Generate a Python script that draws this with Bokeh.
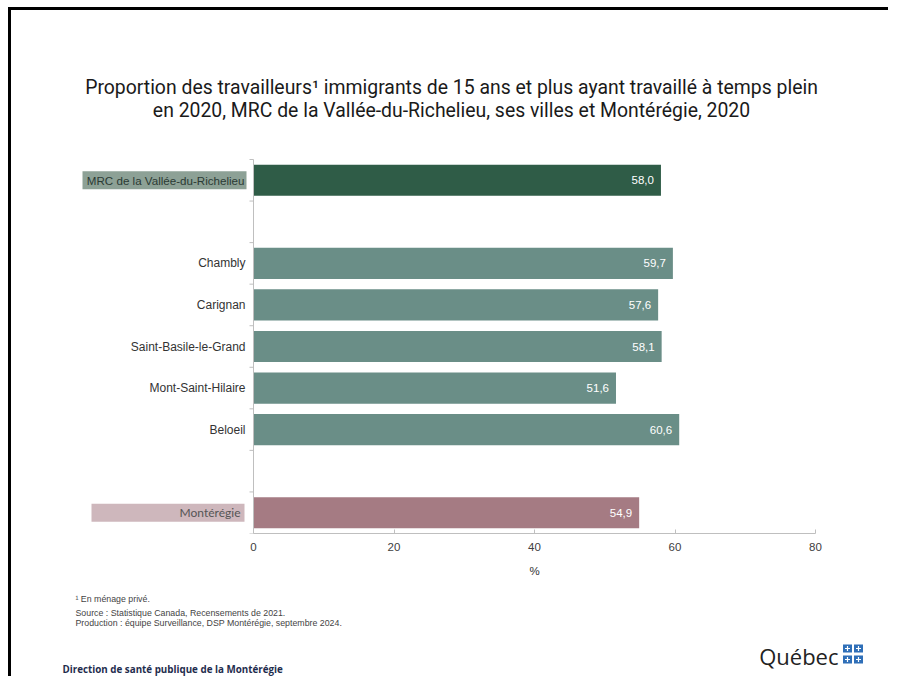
import numpy as np
from bokeh.plotting import figure
from bokeh.layouts import column
from bokeh.models import FixedTicker, Range1d, ColumnDataSource
from bokeh.embed import file_html
from bokeh.resources import INLINE
from bokeh.core.properties import value

# ---------------- data ----------------
categories = ["MRC de la Vallée-du-Richelieu", "Chambly", "Carignan",
              "Saint-Basile-le-Grand", "Mont-Saint-Hilaire", "Beloeil", "Montérégie"]
values = [58.0, 59.7, 57.6, 58.1, 51.6, 60.6, 54.9]
groups = ["mrc", "ville", "ville", "ville", "ville", "ville", "region"]
x_ticks = [0, 20, 40, 60, 80]
x_title = "%"
title_lines = ["Proportion des travailleurs¹ immigrants de 15 ans et plus ayant travaillé à temps plein",
               "en 2020, MRC de la Vallée-du-Richelieu, ses villes et Montérégie, 2020"]
notes = ["¹ En ménage privé.",
         "Source : Statistique Canada, Recensements de 2021.",
         "Production : équipe Surveillance, DSP Montérégie, septembre 2024."]
footer = "Direction de santé publique de la Montérégie"
logo_text = "Québec"

bar_colors = {"mrc": "#2f5c47", "ville": "#6a8e87", "region": "#a57b83"}

# ---------------- layout constants (pixels) ----------------
W = 888
H1 = 558          # main figure height
H2 = 118          # bottom band height
X0_PX, X80_PX = 253, 815     # where 0 and 80 fall
Y_TOP_PX, Y_BOT_PX = 159, 533
FRAME_BOTTOM = 533

# slot positions (top to bottom, one empty slot between groups)
order = []
for i, g in enumerate(groups):
    if i > 0 and g != groups[i - 1]:
        order.append(None)
    order.append(i)
n_slots = len(order)
ypos = [0.0] * len(categories)
for k, idx in enumerate(order):
    if idx is not None:
        ypos[idx] = n_slots - 1 - k

kx = (X80_PX - X0_PX) / (x_ticks[-1] - x_ticks[0])
ky = (Y_BOT_PX - Y_TOP_PX) / n_slots
x_start = x_ticks[0] - X0_PX / kx
x_end = x_ticks[-1] + (W - X80_PX) / kx
y_start = -0.5
y_end = n_slots - 0.5 + Y_TOP_PX / ky

border_css = {
    "background-color": "white",
    "background-image": "linear-gradient(#000, #000), linear-gradient(#000, #000)",
    "background-size": "3px 100%, 100% 3px",
    "background-repeat": "no-repeat",
}

p = figure(width=W, height=H1, output_backend="svg", toolbar_location=None,
           x_range=Range1d(x_start, x_end), y_range=Range1d(y_start, y_end),
           y_axis_location=None,
           min_border_left=0, min_border_right=0, min_border_top=0,
           min_border_bottom=H1 - FRAME_BOTTOM)
p.extra_x_ranges = {"px": Range1d(0, W)}
p.extra_y_ranges = {"px": Range1d(FRAME_BOTTOM, 0)}
p.styles = dict(border_css, **{"background-position": "8px 7px, 8px 7px"})
p.outline_line_color = None
p.background_fill_color = None
p.border_fill_color = None
p.xgrid.visible = False
p.ygrid.visible = False

src = ColumnDataSource(dict(
    y=ypos, v=values,
    c=[bar_colors[g] for g in groups],
    lab=[f"{v:.1f}".replace(".", ",") for v in values],
    cat=categories,
))

# bars and value labels
p.hbar(y="y", right="v", left=0, height=0.75, fill_color="c", line_color=None, source=src)
p.text(x="v", y="y", text="lab", source=src, x_offset=-7, text_align="right",
       text_baseline="middle", text_color="white", text_font_size="11.5px",
       text_font=value("Liberation Sans"))

# y axis line and ticks between categories
bounds = [k - 0.5 for k in range(n_slots + 1)]
p.segment(x0=[0], y0=[bounds[0]], x1=[0], y1=[bounds[-1]], line_color="#bfbfbf", line_width=1)
p.ray(x=[0] * len(bounds), y=bounds, length=4, length_units="screen", angle=np.pi,
      line_color="#bfbfbf", line_width=1)

# category labels
mrc_y = [y for y, g in zip(ypos, groups) if g == "mrc"]
reg_y = [y for y, g in zip(ypos, groups) if g == "region"]
box_h = 18 / ky
p.hbar(y=mrc_y, left=82, right=246, height=box_h, x_range_name="px",
       fill_color="#8da196", line_color=None)
p.hbar(y=reg_y, left=91, right=244, height=box_h, x_range_name="px",
       fill_color="#ceb7bc", line_color=None)

vil = [i for i, g in enumerate(groups) if g == "ville"]
p.text(x=[0] * len(vil), y=[ypos[i] for i in vil], text=[categories[i] for i in vil],
       x_offset=-8, text_align="right", text_baseline="middle",
       text_font=value("Liberation Sans"), text_font_size="12px", text_color="#333333")
p.text(x=[0] * len(mrc_y), y=mrc_y, text=[c for c, g in zip(categories, groups) if g == "mrc"],
       x_offset=-9, text_align="right", text_baseline="middle",
       text_font=value("Liberation Sans"), text_font_size="11.6px", text_color="#2b3a34")
p.text(x=[0] * len(reg_y), y=reg_y, text=[c for c, g in zip(categories, groups) if g == "region"],
       x_offset=-13, text_align="right", text_baseline="middle",
       text_font=value("Lato"), text_font_size="12px", text_color="#555555")

# title
p.text(x=[451, 451], y=[87, 110], text=title_lines, x_range_name="px", y_range_name="px",
       text_align="center", text_baseline="middle", text_font=value("Roboto"),
       text_font_size="19.4px", text_color="#1a1a1a")

# x axis
xa = p.xaxis[0]
xa.ticker = FixedTicker(ticks=x_ticks)
xa.bounds = (x_ticks[0], x_ticks[-1])
xa.axis_line_color = "#bfbfbf"
xa.major_tick_line_color = "#bfbfbf"
xa.major_tick_in = 4
xa.major_tick_out = 0
xa.minor_tick_line_color = None
xa.major_label_text_font = "Liberation Sans"
xa.major_label_text_font_size = "11.5px"
xa.major_label_text_color = "#404040"
xa.major_label_standoff = 9

# ---------------- bottom band ----------------
q = figure(width=W, height=H2, output_backend="svg", toolbar_location=None,
           x_range=Range1d(0, W), y_range=Range1d(H1 + H2, H1),
           x_axis_location=None, y_axis_location=None,
           min_border_left=0, min_border_right=0, min_border_top=0, min_border_bottom=0)
q.styles = dict(border_css, **{"background-position": "8px 0px, 0px -10px"})
q.outline_line_color = None
q.background_fill_color = None
q.border_fill_color = None
q.xgrid.visible = False
q.ygrid.visible = False

# x axis title, centred under the 0-80 axis
q.text(x=[(X0_PX + X80_PX) / 2], y=[570], text=[x_title], text_align="center",
       text_baseline="middle", text_font=value("Liberation Sans"),
       text_font_size="11.5px", text_color="#333333")

q.text(x=[75, 75, 75], y=[598, 612, 622], text=notes, text_align="left",
       text_baseline="middle", text_font=value("Liberation Sans"),
       text_font_size="8.8px", text_color="#444444")
q.text(x=[62], y=[669], text=[footer], text_align="left", text_baseline="middle",
       text_font=value("Open Sans"), text_font_size="9.8px", text_font_style="bold",
       text_color="#1f2d4e")
q.text(x=[838], y=[655], text=[logo_text], text_align="right", text_baseline="middle",
       text_font=value("Open Sans"), text_font_size="22px", text_color="#222222")
fx = [847, 858, 847, 858]
fy = [648, 648, 659, 659]
q.rect(x=fx, y=fy, width=9, height=8, fill_color="#2f6fb8", line_color=None)
q.scatter(x=fx, y=fy, marker="cross", size=5, line_color="white", line_width=1.2)

layout = column(p, q, spacing=0)
open("out.html", "w").write(file_html(layout, INLINE))
